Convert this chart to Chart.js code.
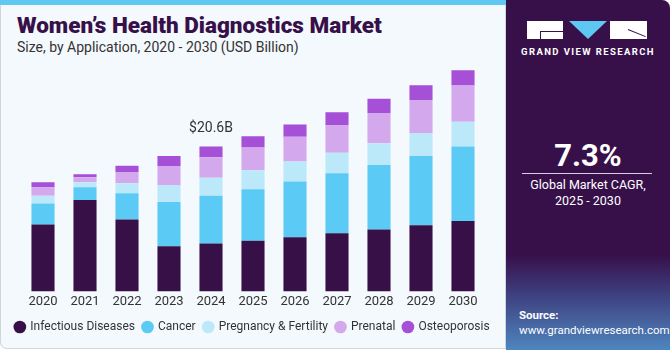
<!DOCTYPE html>
<html>
<head>
<meta charset="utf-8">
<script src="https://cdn.jsdelivr.net/npm/chart.js@4"></script>
<style>
  html, body { margin: 0; padding: 0; }
  body { width: 670px; height: 350px; position: relative; overflow: hidden; background: #fff; font-family: Roboto, 'Liberation Sans', sans-serif; }
  #left { position: absolute; left: 0; top: 0; width: 504px; height: 348px; background: #f3f9fc; border: 1px solid #cfd5d9; border-top: none; border-radius: 0 0 0 7px; }
  #stripe { position: absolute; left: 0; top: 0; width: 506px; height: 5px; background: #5ec8f2; }
  #title { position: absolute; left: 17px; top: 12px; font-size: 22.5px; font-weight: 900; color: #37104a; white-space: nowrap; }
  #sub { position: absolute; left: 17px; top: 39px; font-size: 14px; color: #333; white-space: nowrap; }
  #chartBox { position: absolute; left: 0; top: 45px; width: 505px; height: 302px; }
  #right { position: absolute; left: 506px; top: 0; width: 164px; height: 350px; border-radius: 0 8px 0 0; overflow: hidden;
    background: linear-gradient(to bottom, #37104a 0, #37104a 255px, #3d3a7a 290px, #4e86bf 350px); }
  .blk { position: absolute; background: #fff; }
  #tri { position: absolute; left: 63px; top: 21px; width: 0; height: 0; border-left: 19px solid transparent; border-right: 19px solid transparent; border-top: 18px solid #5ec8f2; }
  #brand { position: absolute; left: 0; width: 164px; top: 46px; text-align: center; font-size: 9.5px; font-weight: 700; color: #fff; letter-spacing: 1.4px; }
  #cagr { position: absolute; left: 0; width: 164px; top: 137px; text-align: center; font-size: 31px; font-weight: 700; color: #fff; }
  #rule { position: absolute; left: 16px; width: 130px; top: 173px; height: 1px; background: #d8cde0; }
  #cagrTxt { position: absolute; left: 0; width: 164px; top: 177px; text-align: center; font-size: 12.5px; color: #fff; line-height: 16px; }
  #src { position: absolute; left: 13px; top: 308px; font-size: 11.5px; color: #fff; line-height: 15px; }
</style>
</head>
<body>
<div id="left"></div>
<div id="stripe"></div>
<div id="title">Women’s Health Diagnostics Market</div>
<div id="sub">Size, by Application, 2020 - 2030 (USD Billion)</div>
<div id="chartBox"><canvas id="chart"></canvas></div>
<div id="right">
  <div class="blk" style="left:21px;top:21px;width:36px;height:18px;"></div>
  <div style="position:absolute;left:34px;top:31px;width:23px;height:1px;background:#37104a;"></div>
  <div style="position:absolute;left:34px;top:31px;width:1px;height:8px;background:#37104a;"></div>
  <div id="tri"></div>
  <div class="blk" style="left:104px;top:21px;width:37px;height:18px;"></div>
  <div style="position:absolute;left:122px;top:29px;width:19px;height:1px;background:#37104a;transform:rotate(22deg);transform-origin:left;"></div>
  <div id="brand">GRAND VIEW RESEARCH</div>
  <div id="cagr">7.3%</div>
  <div id="rule"></div>
  <div id="cagrTxt">Global Market CAGR,<br>2025 - 2030</div>
  <div id="src"><b>Source:</b><br>www.grandviewresearch.com</div>
</div>
<script>
const years = ['2020', '2021', '2022', '2023', '2024', '2025', '2026', '2027', '2028', '2029', '2030']
const infectious = [9.5, 13.0, 10.2, 6.4, 6.8, 7.2, 7.7, 8.25, 8.8, 9.4, 10.0]
const cancer = [3.0, 1.8, 3.75, 6.3, 6.8, 7.3, 7.9, 8.55, 9.15, 9.85, 10.6]
const pregnancy = [1.1, 0.7, 1.4, 2.4, 2.55, 2.7, 2.85, 2.9, 3.1, 3.25, 3.5]
const prenatal = [1.2, 0.7, 1.6, 2.7, 2.9, 3.25, 3.5, 3.95, 4.3, 4.7, 5.15]
const osteoporosis = [0.7, 0.45, 0.9, 1.45, 1.55, 1.6, 1.75, 1.8, 2.0, 2.1, 2.15]
const highlightIndex = 4
const highlightLabel = '$20.6B'

const seriesList = [
  { label: 'Infectious Diseases', data: infectious, color: '#371047' },
  { label: 'Cancer', data: cancer, color: '#5bcaf5' },
  { label: 'Pregnancy & Fertility', data: pregnancy, color: '#bce9f9' },
  { label: 'Prenatal', data: prenatal, color: '#d4a8ed' },
  { label: 'Osteoporosis', data: osteoporosis, color: '#a64fd7' }
]

const totalLabel = {
  id: 'totalLabel',
  afterDatasetsDraw (chart) {
    const { ctx, scales } = chart
    const total = seriesList.reduce((s, d) => s + d.data[highlightIndex], 0)
    const x = scales.x.getPixelForValue(highlightIndex)
    const y = scales.y.getPixelForValue(total)
    ctx.save()
    ctx.font = '14px Roboto, "Liberation Sans", sans-serif'
    ctx.fillStyle = '#333'
    ctx.textAlign = 'center'
    ctx.textBaseline = 'middle'
    ctx.fillText(highlightLabel, x, y - 18)
    ctx.restore()
  }
}

// invisible side axes just to reserve space left/right of the bars
function spacer (width) {
  return {
    display: true,
    grid: { display: false, drawTicks: false },
    border: { display: false },
    ticks: { display: false },
    afterFit: scale => { scale.width = width }
  }
}

new Chart(document.getElementById('chart').getContext('2d'), {
  type: 'bar',
  data: {
    labels: years,
    datasets: seriesList.map(s => ({
      label: s.label,
      data: s.data,
      backgroundColor: s.color,
      borderWidth: 0,
      barPercentage: 0.55,
      categoryPercentage: 1
    }))
  },
  options: {
    responsive: true,
    maintainAspectRatio: false,
    animation: false,
    layout: { padding: { left: 0, right: 0, top: 0, bottom: 4 } },
    scales: {
      x: {
        stacked: true,
        grid: { display: false, drawTicks: false },
        border: { display: false },
        ticks: { color: '#333', font: { size: 13, family: 'Roboto, "Liberation Sans", sans-serif' }, padding: 3 }
      },
      y: Object.assign(spacer(22), { stacked: true, position: 'left', min: 0, max: 35 }),
      yr: Object.assign(spacer(21), { position: 'right', min: 0, max: 35 })
    },
    plugins: {
      legend: {
        position: 'bottom',
        labels: {
          usePointStyle: true,
          pointStyle: 'circle',
          boxWidth: 9,
          boxHeight: 9,
          padding: 8,
          color: '#333',
          font: { size: 12, family: 'Roboto, "Liberation Sans", sans-serif' }
        }
      },
      tooltip: { enabled: false }
    }
  },
  plugins: [totalLabel]
})
</script>
</body>
</html>
